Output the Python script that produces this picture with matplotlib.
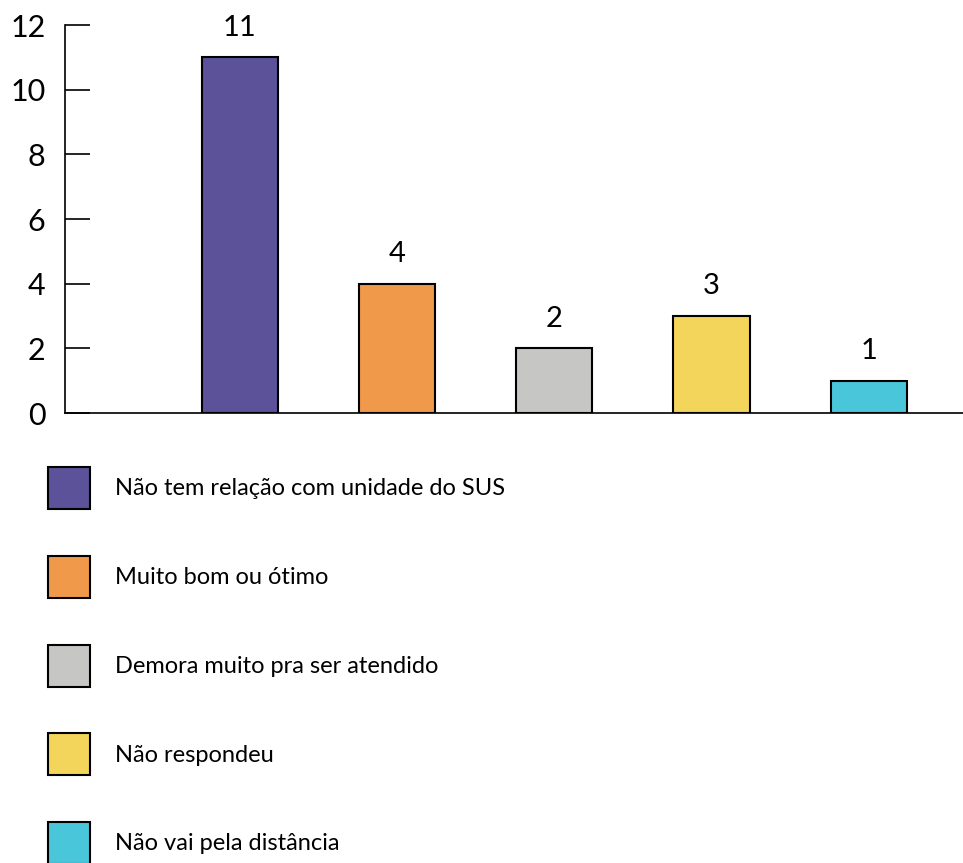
import matplotlib.pyplot as plt
from matplotlib.patches import Patch

plt.rcParams['font.family'] = ['Lato', 'DejaVu Sans']

categories = ['Não tem relação com unidade do SUS', 'Muito bom ou ótimo',
              'Demora muito pra ser atendido', 'Não respondeu',
              'Não vai pela distância']
values = [11, 4, 2, 3, 1]
colors = ['#5B5299', '#F0994A', '#C6C6C4', '#F2D55A', '#4AC6DB']
yticks = [0, 2, 4, 6, 8, 10, 12]

fig = plt.figure(figsize=(9.63, 8.63), dpi=100)
ax = fig.add_axes([65 / 963, 1 - 413 / 863, 1 - 65 / 963, (413 - 25) / 863])

x = list(range(1, len(values) + 1))
bars = ax.bar(x, values, width=0.485, color=colors, edgecolor='black', linewidth=1.5, zorder=3)
for xi, v in zip(x, values):
    ax.annotate(str(v), (xi, v), xytext=(0, 12), textcoords='offset points',
                ha='center', va='bottom', fontsize=21)

ax.set_xlim(-0.113, 5.6)
ax.set_ylim(0, 12)
ax.set_yticks(yticks)
ax.set_xticks([])
ax.tick_params(axis='y', direction='in', length=18, width=1.2, pad=14, labelsize=22)
for s in ['top', 'right']:
    ax.spines[s].set_visible(False)
ax.spines['left'].set_linewidth(1.2)
ax.spines['bottom'].set_linewidth(1.2)

fs = 17
handles = [Patch(facecolor=c, edgecolor='black', linewidth=1.5) for c in colors]
fig.legend(handles, categories, loc='upper left',
           bbox_to_anchor=(48 / 963, 1 - 467 / 863), frameon=False,
           fontsize=fs, handlelength=1.78, handleheight=2.36,
           handletextpad=1.05, labelspacing=1.98, borderpad=0, borderaxespad=0)

fig.savefig('out.png', dpi=100)
